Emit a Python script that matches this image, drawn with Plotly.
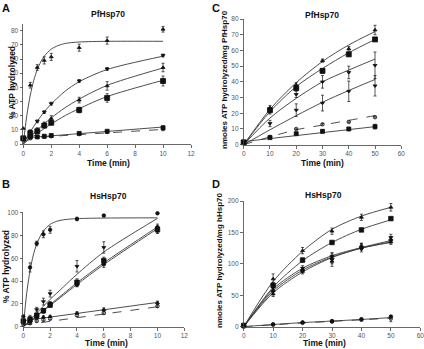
import plotly.graph_objects as go

W, H = 424, 349

# ---------------- Panel A (PfHsp70, % ATP hydrolyzed) ----------------
A_time = [0, 0.5, 1, 1.5, 2, 4, 6, 10]
A_s1 = [11, 41.5, 54, 59, 61.5, 68, 73, 81]
A_s1_err = [0, 2, 2, 2.5, 2.5, 2.5, 2.5, 2]
A_s2 = [4, 9, 16, 22.5, 28.5, 44.5, 53, 62.5]
A_s2_err = [0, 1, 1, 1, 1, 1, 1, 1]
A_s3 = [3, 6, 10, 14, 18, 31, 41, 54]
A_s3_err = [0, 1.5, 1.5, 1.5, 2, 2, 3, 3]
A_s4 = [4, 7.5, 9, 13, 15, 24, 32.5, 44.5]
A_s4_err = [0, 1.5, 1.5, 1.5, 1.5, 2, 3, 3.5]
A_s5 = [4, 5, 5, 5.5, 6, 7.5, 9, 11.5]
A_s5_err = [0, 0.5, 0.5, 0.5, 0.5, 0.5, 0.5, 1]
A_s6 = [3, 4, 5, 5, 5.5, 7, 8.5, 10.5]
A_s6_err = [0, 0.5, 0.5, 0.5, 0.5, 0.5, 0.5, 0.5]

A_fit_time = [0, 0.25, 0.5, 0.75, 1, 1.25, 1.5, 2, 2.5, 3, 4, 6, 10]
A_fit_s1 = [0, 20, 34.5, 45, 52.5, 58, 62, 67, 69.5, 71, 72, 72.5, 72.5]
A_fit_s2 = [0, 4.3, 8.6, 12.5, 16, 19.5, 22.7, 28.3, 33, 37.4, 44, 52.6, 62]
A_fit_s3 = [0, 2.6, 5.1, 7.5, 9.9, 12.2, 14.4, 18.4, 22.2, 25.7, 31.7, 41.4, 53.7]
A_fit_s4 = [0, 2, 3.9, 5.7, 7.5, 9.2, 10.9, 14.2, 17.2, 20.1, 25, 33.5, 45]
A_line_time = [0, 10]
A_line_s5 = [4.2, 12]
A_line_s6 = [4.2, 10.3]

# ---------------- Panel B (HsHsp70, % ATP hydrolyzed) ----------------
B_time = [0, 0.5, 1, 1.5, 2, 4, 6, 10]
B_s1 = [9, 52, 73, 81, 85, 94.5, 97.5, 99.5]
B_s1_err = [0, 4, 2, 3, 3, 1.5, 1, 1]
B_s2 = [5, 8, 15, 22, 29, 53, 69.5, 85]
B_s2_err = [0, 2, 2, 3, 3, 5, 5, 3]
B_s3 = [5, 6, 10, 14, 19, 39, 58, 85]
B_s3_err = [0, 2, 2, 2, 2, 3, 3, 3]
B_s4 = [4, 5, 9, 14, 20, 37, 55, 87]
B_s4_err = [0, 2, 2, 2, 2, 2, 3, 3]
B_s5 = [5, 7, 8, 8.5, 9, 12, 15, 21]
B_s5_err = [0, 1, 1, 1, 1, 1, 1.5, 1.5]
B_s6 = [2, 3, 5, 6, 7, 10, 12, 18]
B_s6_err = [0, 1, 1, 1, 1, 1, 1, 1]

B_fit_time = [0, 0.25, 0.5, 0.75, 1, 1.25, 1.5, 2, 2.5, 3, 4, 6, 10]
B_fit_s1 = [0, 29, 49, 63, 72.5, 79, 84, 89.8, 92.5, 93.8, 94.8, 95.3, 95.5]
B_fit_s2 = [0, 3, 6, 9, 12, 15, 18, 24, 29.5, 35, 46, 65.5, 95]
B_fit_s3 = [0, 2.4, 4.9, 7.3, 9.8, 12.2, 14.6, 19.5, 24.2, 29, 38.5, 56, 87.5]
B_fit_s4 = [0, 2.3, 4.6, 6.9, 9.3, 11.6, 13.9, 18.5, 23.1, 27.8, 37, 54.5, 86]
B_line_time = [0, 10]
B_line_s5 = [5.2, 21.3]
B_line_s6 = [1.5, 17.5]

# ---------------- Panel C (PfHsp70, nmoles/mg) ----------------
C_time = [0, 10, 20, 30, 40, 50]
C_s1 = [1, 23.5, 38, 53.5, 61, 73]
C_s1_err = [0, 1.5, 1.5, 1, 1.5, 3]
C_s2 = [1.5, 22, 36, 47, 57.5, 67]
C_s2_err = [0, 1.5, 1.5, 1.5, 1, 1]
C_s3 = [1, 21, 32, 40, 46, 50.5]
C_s3_err = [0, 1.5, 2, 4, 4, 8.5]
C_s4 = [1, 13.5, 22, 26.5, 34, 37.5]
C_s4_err = [0, 2, 4, 5, 6.5, 6.5]
C_s5 = [1, 5, 10, 13, 14.5, 17.5]
C_s5_err = [0, 0.5, 0.5, 0.5, 0.5, 0.5]
C_s6 = [1.5, 4.5, 7, 8.5, 10, 11.5]
C_s6_err = [0, 0.5, 0.5, 1, 1, 1.5]

C_fit_s1 = [0, 22.5, 39.5, 53, 63.5, 72]
C_fit_s2 = [0, 21, 37, 48.5, 58.5, 67]
C_fit_s3 = [0, 17, 29.5, 40, 47.5, 54.5]
C_fit_s4 = [0, 9.5, 18.5, 27, 34.5, 41.5]
C_fit_s5 = [0, 5, 9.5, 12.5, 15.5, 18.5]
C_line_time = [0, 50]
C_line_s6 = [2, 11.5]

# ---------------- Panel D (HsHsp70, nmoles/mg) ----------------
D_time = [0, 10, 20, 30, 40, 50]
D_s1 = [2, 76, 121, 152, 174, 190]
D_s1_err = [0, 8, 5, 5, 5, 6]
D_s2 = [2, 66, 106, 134, 154, 172]
D_s2_err = [0, 4, 3, 2, 2, 2]
D_s3 = [2, 62, 93, 112, 127, 142]
D_s3_err = [0, 5, 4, 6, 5, 5]
D_s4 = [2, 57, 90, 108, 125, 138]
D_s4_err = [0, 5, 4, 8, 6, 5]
D_s5 = [2, 52, 88, 104, 128, 135]
D_s5_err = [0, 4, 4, 8, 5, 4]
D_s6 = [1, 4, 7, 9, 12, 16]
D_s6_err = [0, 1, 1, 1.5, 1.5, 2]
D_s7 = [0, 3, 6, 8, 11, 13]
D_s7_err = [0, 1, 1, 1.5, 1.5, 5]

D_fit_s1 = [0, 72, 120, 155, 176, 190]
D_fit_s2 = [0, 63, 105, 134, 155, 170]
D_fit_s3 = [0, 60, 93, 113, 126, 137]
D_fit_s4 = [0, 57, 90, 111, 125, 135]
D_fit_s5 = [0, 54, 87, 110, 125, 134]
D_line_s6 = [0, 3.5, 6.5, 9, 11.5, 14.5]
D_line_s7 = [0, 3, 6, 8.5, 11, 13.5]

LINE = "#3a3a3a"
MK = "#111111"

fig = go.Figure()

def pts(x, y, err, ax, symbol, size=4):
    fig.add_trace(go.Scatter(
        x=x, y=y, mode="markers", xaxis="x" + ax, yaxis="y" + ax,
        marker=dict(symbol=symbol, size=size, color=MK,
                    line=dict(color=MK, width=0.8)),
        error_y=dict(type="data", array=err, visible=True, color=MK,
                     thickness=0.7, width=1.5),
        cliponaxis=False, showlegend=False, hoverinfo="skip"))

def curve(x, y, ax, dash="solid", width=0.9):
    fig.add_trace(go.Scatter(
        x=x, y=y, mode="lines", xaxis="x" + ax, yaxis="y" + ax,
        line=dict(color=LINE, width=width, dash=dash, shape="spline", smoothing=0.8),
        cliponaxis=False, showlegend=False, hoverinfo="skip"))

# Panel A
for fx, fy, d in [(A_fit_time, A_fit_s1, "solid"), (A_fit_time, A_fit_s2, "solid"),
                  (A_fit_time, A_fit_s3, "solid"), (A_fit_time, A_fit_s4, "solid"),
                  (A_line_time, A_line_s5, "solid"), (A_line_time, A_line_s6, "dash")]:
    curve(fx, fy, "", d)
pts(A_time, A_s1, A_s1_err, "", "triangle-up", 3.5)
pts(A_time, A_s2, A_s2_err, "", "triangle-down", 3.5)
pts(A_time, A_s3, A_s3_err, "", "triangle-up", 3.5)
pts(A_time, A_s4, A_s4_err, "", "square", 5)
pts(A_time, A_s5, A_s5_err, "", "square", 4)
pts(A_time, A_s6, A_s6_err, "", "circle-open", 3.5)

# Panel B
for fx, fy, d in [(B_fit_time, B_fit_s1, "solid"), (B_fit_time, B_fit_s2, "solid"),
                  (B_fit_time, B_fit_s3, "solid"), (B_fit_time, B_fit_s4, "solid"),
                  (B_line_time, B_line_s5, "solid"), (B_line_time, B_line_s6, "dash")]:
    curve(fx, fy, "2", d)
pts(B_time, B_s1, B_s1_err, "2", "circle", 3.5)
pts(B_time, B_s2, B_s2_err, "2", "triangle-down", 3.5)
pts(B_time, B_s3, B_s3_err, "2", "square", 4.5)
pts(B_time, B_s4, B_s4_err, "2", "circle", 4)
pts(B_time, B_s5, B_s5_err, "2", "triangle-up", 3.5)
pts(B_time, B_s6, B_s6_err, "2", "circle-open", 3.5)

# Panel C
for fy, d in [(C_fit_s1, "solid"), (C_fit_s2, "solid"), (C_fit_s3, "solid"),
              (C_fit_s4, "solid"), (C_fit_s5, "dash")]:
    curve(C_time, fy, "3", d)
curve(C_line_time, C_line_s6, "3")
pts(C_time, C_s1, C_s1_err, "3", "triangle-up", 3.5)
pts(C_time, C_s2, C_s2_err, "3", "square", 5)
pts(C_time, C_s3, C_s3_err, "3", "triangle-down", 3.5)
pts(C_time, C_s4, C_s4_err, "3", "triangle-down", 3.5)
pts(C_time, C_s5, C_s5_err, "3", "circle-open", 3.5)
pts(C_time, C_s6, C_s6_err, "3", "square", 4)

# Panel D
for fy, d in [(D_fit_s1, "solid"), (D_fit_s2, "solid"), (D_fit_s3, "solid"),
              (D_fit_s4, "solid"), (D_fit_s5, "solid"), (D_line_s6, "solid"),
              (D_line_s7, "dash")]:
    curve(D_time, fy, "4", d)
pts(D_time, D_s1, D_s1_err, "4", "triangle-up", 3.5)
pts(D_time, D_s2, D_s2_err, "4", "square", 4.5)
pts(D_time, D_s3, D_s3_err, "4", "triangle-down", 3.5)
pts(D_time, D_s4, D_s4_err, "4", "diamond", 3.5)
pts(D_time, D_s5, D_s5_err, "4", "triangle-up", 3.5)
pts(D_time, D_s6, D_s6_err, "4", "circle", 3.5)
pts(D_time, D_s7, D_s7_err, "4", "circle-open", 3.5)

def px_x(a, b):
    return [a / W, b / W]

def px_y(bottom, top):
    return [1 - bottom / H, 1 - top / H]

FONT = "Liberation Sans, Arial, sans-serif"
tickfont = dict(family=FONT, size=6.5, color="#555555")
def axis(domain, rng, dtick, anchor):
    return dict(domain=domain, range=rng, dtick=dtick, tick0=0, anchor=anchor,
                showline=True, linecolor="#444444", linewidth=0.8,
                ticks="outside", ticklen=3, tickwidth=0.8, tickcolor="#444444",
                showgrid=False, zeroline=False, tickfont=tickfont, fixedrange=True,
                ticklabeloverflow="allow", automargin=False)

fig.update_layout(
    width=W, height=H, margin=dict(l=0, r=0, t=0, b=0),
    paper_bgcolor="white", plot_bgcolor="white",
    xaxis=axis(px_x(23.3, 191), [0, 12], 2, "y"),
    yaxis=axis(px_y(144, 23.6), [0, 85], 10, "x"),
    xaxis2=axis(px_x(23.3, 184.3), [0, 12], 2, "y2"),
    yaxis2=axis(px_y(326.7, 212.7), [0, 100], 20, "x2"),
    xaxis3=axis(px_x(243.7, 401.3), [0, 60], 10, "y3"),
    yaxis3=axis(px_y(144.7, 19), [0, 80], 10, "x3"),
    xaxis4=axis(px_x(243.7, 420.3), [0, 60], 10, "y4"),
    yaxis4=axis(px_y(326.7, 201), [0, 200], 50, "x4"),
)

def note(text, x, y, size, angle=0, bold=True):
    fig.add_annotation(text=("<b>%s</b>" % text) if bold else text,
                       x=x / W, y=1 - y / H, xref="paper", yref="paper",
                       showarrow=False, textangle=angle,
                       font=dict(family=FONT, size=size, color="#111111"),
                       xanchor="center", yanchor="middle")

note("A", 6, 8, 11)
note("C", 216, 8, 11)
note("B", 6, 184, 11)
note("D", 216, 184, 11)
note("PfHsp70", 108, 14, 8.5)
note("PfHsp70", 322, 15, 8.5)
note("HsHsp70", 108, 196, 8.5)
note("HsHsp70", 323, 195, 8.5)
note("Time (min)", 108, 163, 8.5)
note("Time (min)", 106, 343, 8.5)
note("Time (min)", 322, 163, 8.5)
note("Time (min)", 324, 343, 8.5)
note("% ATP hydrolyzed", 12, 83, 8.5, -90)
note("% ATP hydrolyzed", 6, 267, 8.5, -90)
note("nmoles ATP hydrolyzed/mg PfHsp70", 224, 80, 8, -90)
note("nmoles ATP hydrolyzed/mg hHsp70", 219, 260, 8, -90)

fig.write_html("out.html", config={"displayModeBar": False, "staticPlot": True},
               post_script="document.body.style.margin='0px';")
